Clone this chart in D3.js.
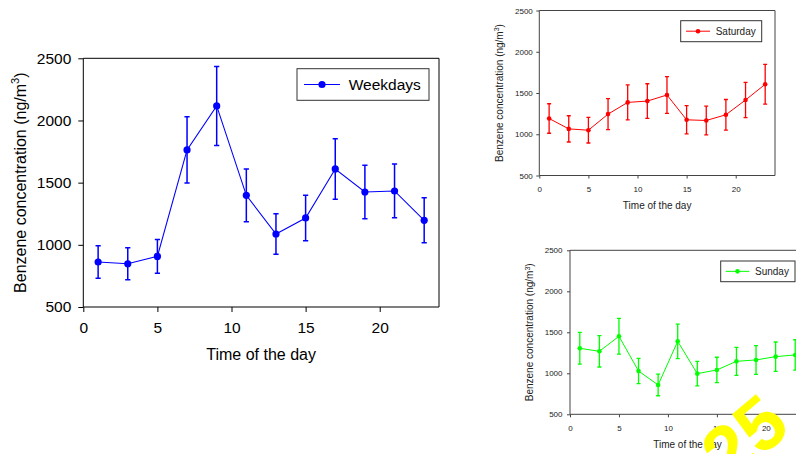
<!DOCTYPE html>
<html>
<head>
<meta charset="utf-8">
<script src="https://cdn.jsdelivr.net/npm/d3@7"></script>
<style>
  html, body { margin: 0; padding: 0; background: #ffffff; }
  svg { display: block; font-family: "Liberation Sans", Arial, sans-serif; }
</style>
</head>
<body>
<svg id="chart" width="796" height="454"></svg>
<script>
// ---- data ----
const hours = [1, 3, 5, 7, 9, 11, 13, 15, 17, 19, 21, 23];
const xTicks = [0, 5, 10, 15, 20];
const yTicks = [500, 1000, 1500, 2000, 2500];
const seriesNames = ["Weekdays", "Saturday", "Sunday"];
const weekdays    = [862, 848, 907, 1763, 2117, 1398, 1087, 1216, 1610, 1425, 1433, 1197];
const weekdaysErr = [130, 128, 136, 266, 318, 212, 162, 183, 243, 215, 216, 181];
const saturday    = [1191, 1065, 1049, 1244, 1386, 1402, 1476, 1175, 1167, 1236, 1415, 1606];
const saturdayErr = [179, 159, 155, 187, 212, 210, 222, 171, 175, 185, 214, 240];
const sunday      = [1305, 1268, 1451, 1028, 858, 1390, 996, 1041, 1146, 1163, 1203, 1224];
const sundayErr   = [193, 191, 218, 153, 132, 210, 149, 155, 171, 175, 179, 185];
const xTitle = "Time of the day";
const watermarkText = "25";

// ---- layout ----
const panels = [
  { name: seriesNames[0], values: weekdays, err: weekdaysErr, color: "#0000ff",
    left: 83.3, right: 439, top: 58.3, bottom: 307,
    axisColor: "#000", textColor: "#000",
    tickFs: 15.5, titleFs: 16, legendFs: 15.5, tickLen: 5,
    yLabGap: 12, xLabOff: 26, xTitleOff: 53, yTitleOff: 57.8,
    r: 3.6, cap: 2.6, lineW: 1.1, errW: 1.5,
    legend: { x: 297, y: 68.7, w: 132, h: 31.6, l0: 304, l1: 340, tx: 348.7 } },
  { name: seriesNames[1], values: saturday, err: saturdayErr, color: "#ff0000",
    left: 539.3, right: 775, top: 10.5, bottom: 175.5,
    axisColor: "#444", textColor: "#222",
    tickFs: 8, titleFs: 10, legendFs: 10, tickLen: 3,
    yLabGap: 6.5, xLabOff: 16.5, xTitleOff: 33.5, yTitleOff: 36.6,
    r: 2.3, cap: 2, lineW: 1, errW: 1.3,
    legend: { x: 680.7, y: 20.7, w: 81, h: 21, l0: 686, l1: 710, tx: 715.7 } },
  { name: seriesNames[2], values: sunday, err: sundayErr, color: "#00ff00",
    left: 570, right: 805, top: 250.3, bottom: 414.3,
    axisColor: "#444", textColor: "#222",
    tickFs: 8, titleFs: 10, legendFs: 10, tickLen: 3,
    yLabGap: 7.5, xLabOff: 17, xTitleOff: 34, yTitleOff: 36.7,
    r: 2.3, cap: 2, lineW: 1, errW: 1.3,
    legend: { x: 720.7, y: 261, w: 74.3, h: 20.7, l0: 725.7, l1: 749.3, tx: 755 } }
];

const svg = d3.select("#chart");
const fmt = d3.format("d");

panels.forEach(p => {
  const g = svg.append("g");
  const x = d3.scaleLinear().domain([0, 24]).range([p.left, p.right]);
  const y = d3.scaleLinear().domain([500, 2500]).range([p.bottom, p.top]);

  // frame (top & right)
  g.append("path")
    .attr("d", `M${p.left},${p.top}H${p.right}V${p.bottom}`)
    .attr("fill", "none").attr("stroke", p.axisColor).attr("stroke-width", 1);

  // x axis
  const xAxis = d3.axisBottom(x).tickValues(xTicks).tickFormat(fmt).tickSizeOuter(0)
    .tickSize(p.tickLen).tickPadding(p.xLabOff - p.tickLen - p.tickFs * 0.72);
  const gx = g.append("g").attr("transform", `translate(0,${p.bottom})`).call(xAxis);
  // y axis
  const yAxis = d3.axisLeft(y).tickValues(yTicks).tickFormat(fmt).tickSizeOuter(0)
    .tickSize(p.tickLen).tickPadding(p.yLabGap - p.tickLen);
  const gy = g.append("g").attr("transform", `translate(${p.left},0)`).call(yAxis);

  [gx, gy].forEach(ax => {
    ax.select(".domain").attr("stroke", p.axisColor).attr("stroke-width", 1);
    ax.selectAll(".tick line").attr("stroke", p.axisColor).attr("stroke-width", 1);
    ax.selectAll(".tick text").attr("fill", p.textColor)
      .attr("font-size", p.tickFs)
      .attr("font-family", '"Liberation Sans", Arial, sans-serif');
  });
  gy.select(".domain").attr("d", `M0,${y(2500)}V${y(500)}`);
  gx.select(".domain").attr("d", `M${x(0)},0H${x(24)}`);

  // axis titles
  g.append("text")
    .attr("x", (p.left + p.right) / 2).attr("y", p.bottom + p.xTitleOff)
    .attr("text-anchor", "middle").attr("font-size", p.titleFs)
    .attr("fill", p.textColor).text(xTitle);

  const yt = g.append("text")
    .attr("transform", `translate(${p.left - p.yTitleOff},${(p.top + p.bottom) / 2}) rotate(-90)`)
    .attr("text-anchor", "middle").attr("font-size", p.titleFs).attr("fill", p.textColor);
  yt.append("tspan").text("Benzene concentration (ng/m");
  yt.append("tspan").attr("font-size", p.titleFs * 0.7).attr("dy", -p.titleFs * 0.38).text("3");
  yt.append("tspan").attr("dy", p.titleFs * 0.38).text(")");

  const pts = hours.map((h, i) => ({ h, v: p.values[i], e: p.err[i] }));

  // error bars
  const eb = g.append("g").attr("stroke", p.color).attr("stroke-width", p.errW).attr("fill", "none");
  eb.selectAll("path").data(pts).join("path")
    .attr("d", d => {
      const cx = x(d.h), t = y(d.v + d.e), b = y(d.v - d.e);
      return `M${cx},${t}V${b}M${cx - p.cap},${t}H${cx + p.cap}M${cx - p.cap},${b}H${cx + p.cap}`;
    });

  // line
  g.append("path").datum(pts)
    .attr("d", d3.line().x(d => x(d.h)).y(d => y(d.v)))
    .attr("fill", "none").attr("stroke", p.color).attr("stroke-width", p.lineW);

  // markers
  g.append("g").selectAll("circle").data(pts).join("circle")
    .attr("cx", d => x(d.h)).attr("cy", d => y(d.v)).attr("r", p.r)
    .attr("fill", p.color);

  // legend
  const L = p.legend;
  const lg = g.append("g");
  lg.append("rect").attr("x", L.x).attr("y", L.y).attr("width", L.w).attr("height", L.h)
    .attr("fill", "#fff").attr("stroke", "#333").attr("stroke-width", 1);
  const cy = L.y + L.h / 2;
  lg.append("line").attr("x1", L.l0).attr("x2", L.l1).attr("y1", cy).attr("y2", cy)
    .attr("stroke", p.color).attr("stroke-width", p.lineW);
  lg.append("circle").attr("cx", (L.l0 + L.l1) / 2).attr("cy", cy).attr("r", p.r).attr("fill", p.color);
  lg.append("text").attr("x", L.tx).attr("y", cy + p.legendFs * 0.35)
    .attr("font-size", p.legendFs).attr("fill", p.textColor).text(p.name);
});

// watermark
svg.append("text")
  .attr("transform", "translate(729,484) rotate(-40)")
  .attr("font-size", 75).attr("font-weight", "bold")
  .attr("fill", "#ffff00").text(watermarkText);
</script>
</body>
</html>
